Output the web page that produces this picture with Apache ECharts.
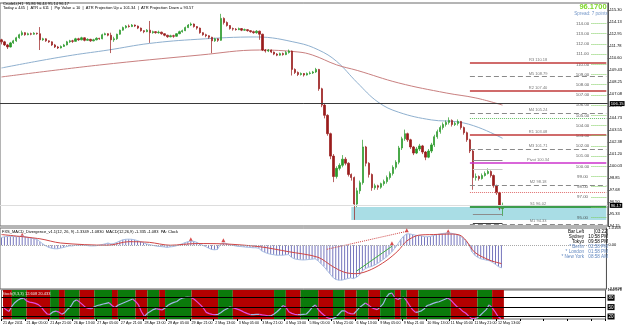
<!DOCTYPE html>
<html><head><meta charset="utf-8">
<script src="https://cdn.jsdelivr.net/npm/echarts@6/dist/echarts.min.js"></script>
<style>html,body{margin:0;padding:0;background:#fff}#c{width:625px;height:329px}</style>
</head><body><div id="c"></div>
<script>
// ---------- DATA ----------
const tickLabels = ['21 Apr 2011','21 Apr 05:00','21 Apr 21:00','26 Apr 13:00','27 Apr 05:00','27 Apr 21:00','28 Apr 13:00','29 Apr 05:00','29 Apr 21:00','2 May 13:00','3 May 05:00','3 May 21:00','4 May 13:00','5 May 05:00','5 May 21:00','6 May 13:00','9 May 05:00','9 May 21:00','10 May 13:00','11 May 05:00','11 May 21:00','12 May 13:00'];
const slotCount = 205;
// [open, close, low, high]
const candles = [
[112.4,112.2,111.95,112.5],[112.2,111.9,111.8,112.3],[111.9,111.7,111.5,112.0],[111.7,112.1,111.65,112.2],[112.1,112.3,112.0,112.4],
[112.3,112.6,112.2,112.7],[112.6,112.9,112.5,113.0],[112.9,113.1,112.8,113.3],[113.1,112.9,112.8,113.15],[112.9,113.0,112.85,113.1],
[113.0,112.95,112.85,113.1],[112.95,113.05,112.9,113.15],[113.05,113.0,112.9,113.1],[113.0,112.4,111.4,113.65],[112.4,112.5,112.3,112.6],
[112.5,112.3,112.2,112.55],[112.3,112.2,112.1,112.35],[112.2,111.9,111.8,112.25],[111.9,111.7,111.6,112.0],[111.7,111.6,111.5,111.8],
[111.6,111.75,111.55,111.85],[111.75,111.9,111.7,112.0],[111.9,112.2,111.85,112.3],[112.2,112.3,112.1,112.4],[112.3,112.25,112.1,112.4],
[112.25,112.5,112.2,112.6],[112.5,112.4,112.3,112.6],[112.4,112.6,112.35,112.7],[112.6,112.35,112.25,112.65],[112.35,112.45,112.3,112.55],
[112.45,112.3,112.2,112.5],[112.3,112.4,112.25,112.5],[112.4,112.55,112.35,112.65],[112.55,112.5,112.4,112.6],[112.5,112.9,112.45,113.0],
[112.9,113.0,112.85,113.1],[113.0,112.85,112.75,113.05],[112.85,112.4,111.1,113.1],[112.4,112.5,112.2,112.7],[112.5,112.95,112.4,113.0],
[112.95,113.35,112.9,113.4],[113.35,113.6,113.3,113.7],[113.6,113.75,113.5,113.85],[113.75,113.7,113.6,113.9],[113.7,113.85,113.65,113.95],
[113.85,113.75,113.65,113.9],[113.75,113.55,113.45,113.8],[113.55,113.3,113.2,113.6],[113.3,113.2,113.05,113.35],[113.2,113.35,113.15,113.45],
[113.35,113.1,112.1,114.25],[113.1,113.2,113.0,113.3],[113.2,113.1,113.0,113.25],[113.1,113.15,113.0,113.3],[113.15,113.0,112.9,113.2],
[113.0,112.85,112.75,113.05],[112.85,112.7,112.6,112.9],[112.7,112.8,112.65,112.9],[112.8,112.75,112.6,112.9],[112.75,113.0,112.7,113.05],
[113.0,113.2,112.95,113.3],[113.2,113.3,113.1,113.4],[113.3,113.6,113.25,113.7],[113.6,113.85,113.55,113.95],[113.85,113.95,113.75,114.1],
[113.95,113.7,113.6,114.0],[113.7,113.55,113.4,113.75],[113.55,113.1,113.0,113.6],[113.1,112.9,112.8,113.15],[112.9,112.8,112.65,113.0],
[112.8,112.65,112.5,112.85],[112.65,112.3,111.1,112.7],[112.3,112.5,112.2,112.6],[112.5,112.35,112.2,112.55],[112.35,114.5,112.3,114.95],
[114.5,114.1,113.9,114.6],[114.1,113.8,113.7,114.2],[113.8,113.5,113.4,113.85],[113.5,113.45,113.3,113.6],[113.45,113.4,113.3,113.55],
[113.4,113.5,113.35,113.6],[113.5,113.35,113.25,113.55],[113.35,113.4,113.3,113.5],[113.4,113.3,113.2,113.45],[113.3,113.2,113.1,113.35],
[113.2,113.1,113.0,113.3],[113.1,113.25,113.0,113.35],[113.25,112.95,112.4,113.3],[112.95,111.4,111.3,113.0],[111.4,111.3,111.15,111.5],
[111.3,111.4,111.2,111.5],[111.4,111.2,111.1,111.45],[111.2,111.0,110.9,111.25],[111.0,110.9,110.8,111.1],[110.9,111.05,110.85,111.15],
[111.05,110.95,110.85,111.15],[110.95,111.15,110.9,111.3],[111.15,111.3,111.05,111.45],[111.3,109.5,108.9,111.35],[109.5,109.2,109.05,109.6],
[109.2,109.0,108.85,109.3],[109.0,109.1,108.9,109.2],[109.1,108.95,108.8,109.15],[108.95,109.1,108.9,109.2],[109.1,109.15,109.0,109.3],
[109.15,109.25,109.05,109.35],[109.25,109.5,109.15,109.65],[109.5,107.6,107.4,109.55],[107.6,106.0,105.8,107.7],[106.0,105.0,104.7,106.2],
[105.0,103.2,103.0,105.1],[103.2,101.0,100.7,103.3],[101.0,99.0,98.45,101.2],[99.0,99.8,98.8,100.0],[99.8,100.1,99.6,100.3],
[100.1,100.7,99.9,101.1],[100.7,100.3,100.1,100.9],[100.3,99.2,99.0,100.4],[99.2,98.9,98.6,99.3],[98.9,96.3,94.75,99.0],
[96.3,97.6,96.0,97.9],[97.6,98.4,97.3,98.6],[98.4,101.9,98.2,102.6],[101.9,100.3,100.0,102.0],[100.3,99.2,98.9,100.4],
[99.2,97.9,97.6,99.3],[97.9,98.1,97.7,98.3],[98.1,97.95,97.7,98.2],[97.95,98.3,97.8,98.4],[98.3,98.5,98.1,98.7],
[98.5,98.9,98.3,99.1],[98.9,99.3,98.7,99.5],[99.3,99.9,99.1,100.1],[99.9,100.4,99.7,100.6],[100.4,101.8,100.2,102.0],
[101.8,102.7,101.6,102.9],[102.7,103.2,102.5,103.6],[103.2,102.6,102.4,103.3],[102.6,101.9,101.7,102.7],[101.9,101.3,101.1,102.0],
[101.3,101.7,101.2,101.9],[101.7,102.0,101.5,102.2],[102.0,101.4,101.2,102.1],[101.4,100.9,100.6,101.5],[100.9,101.5,100.8,101.7],
[101.5,102.1,101.3,102.3],[102.1,102.9,101.9,103.1],[102.9,103.4,102.7,103.6],[103.4,103.8,103.2,104.0],[103.8,104.1,103.6,104.3],
[104.1,104.3,103.9,104.5],[104.3,104.5,104.1,104.8],[104.5,104.1,103.9,104.6],[104.1,104.2,103.95,104.35],[104.2,104.4,104.0,104.6],
[104.4,103.8,103.6,104.45],[103.8,103.3,103.1,103.9],[103.3,102.6,102.4,103.4],[102.6,101.5,101.3,102.7],[101.5,98.9,97.7,101.6],
[98.9,99.0,98.6,99.3],[99.0,98.8,98.6,99.1],[98.8,99.1,98.7,99.3],[99.1,99.3,99.0,99.5],[99.3,99.5,99.2,99.8],
[99.5,99.1,98.9,99.6],[99.1,98.1,97.9,99.2],[98.1,97.4,97.2,98.2],[97.4,95.9,95.7,97.5],[95.86,96.17,95.14,96.44]
];
// moving averages [slot, price]
const maBlue = [[0,109.64],[12,110.3],[24,110.9],[36,111.4],[50,112.05],[66,112.45],[86,112.68],[100,112.1],[107,111.4],[113,110.3],[120,108.2],[127,106.3],[134,105.3],[145,104.55],[154,104.35],[161,103.8],[169,102.75]];
const maRed = [[0,108.76],[33,109.93],[67,110.91],[87,111.4],[100,111.21],[105,110.9],[113,109.95],[120,109.4],[134,108.17],[150,107.19],[160,106.7],[169,106.0]];
const priceTicks = [94.15,95.33,96.50,97.68,98.85,100.03,101.20,102.38,103.55,104.73,105.90,107.08,108.25,109.43,110.60,111.78,112.95,114.13,115.30];
const roundLevels = [95,96,97,98,99,100,101,102,103,104,105,106,107,108,109,110,111,112,113,114];
const pivotNames = ['R3','M5','R2','M4','R1','M3','Pivot','M2','S1','M1'];
const pivotValues = [110.18,108.79,107.40,105.24,103.08,101.71,100.34,98.18,96.02,94.33];
const prevHigh = 104.74, prevLow = 97.48;
const shortLevels = [100.62, 99.74, 95.33, 94.44];
const zoneTop = 96.02, zoneBottom = 94.74;
const refLine = 106.15, lastPrice = 96.17;
// MACD panel
const macdHist = [
0.46,0.50,0.52,0.53,0.52,0.50,0.52,0.55,0.50,0.46,0.42,0.38,0.34,0.21,0.08,-0.04,-0.13,-0.18,-0.21,-0.21,
-0.17,-0.13,-0.08,-0.04,-0.04,0.0,0.0,0.02,0.0,-0.02,-0.04,-0.04,-0.03,0.0,0.04,0.08,0.13,0.08,0.10,0.17,
0.25,0.32,0.35,0.36,0.35,0.32,0.27,0.21,0.15,0.08,0.04,0.0,-0.04,-0.07,-0.08,-0.10,-0.13,-0.10,-0.08,-0.04,
0.02,0.08,0.15,0.21,0.24,0.23,0.17,0.08,0.0,-0.08,-0.17,-0.25,-0.27,-0.25,0.04,0.13,0.10,0.04,0.0,-0.04,
-0.07,-0.08,-0.10,-0.12,-0.13,-0.15,-0.15,-0.18,-0.34,-0.42,-0.49,-0.53,-0.56,-0.59,-0.59,-0.59,-0.57,-0.55,-0.71,-0.80,
-0.84,-0.86,-0.87,-0.86,-0.84,-0.82,-0.80,-0.92,-1.09,-1.26,-1.47,-1.68,-1.89,-2.02,-2.06,-2.06,-2.02,-1.97,-1.93,-1.97,
-1.89,-1.76,-1.51,-1.39,-1.30,-1.26,-1.18,-1.09,-0.97,-0.84,-0.71,-0.55,-0.38,-0.17,0.08,0.34,0.55,0.67,0.67,0.63,
0.59,0.57,0.55,0.50,0.50,0.52,0.57,0.62,0.66,0.69,0.71,0.73,0.71,0.67,0.63,0.55,0.42,0.25,0.04,-0.38,
-0.59,-0.71,-0.80,-0.84,-0.88,-0.92,-1.01,-1.13,-1.26,-1.335
];
const macdSignal = [[0,0.63],[13,0.38],[20,0.13],[36,0.0],[43,0.21],[50,0.17],[57,0.0],[66,0.10],[75,0.08],[87,-0.08],[97,-0.38],[107,-0.71],[112,-1.26],[116,-1.6],[120,-1.68],[125,-1.43],[130,-0.92],[134,-0.34],[137,0.25],[141,0.59],[146,0.63],[152,0.66],[155,0.59],[157,0.29],[160,-0.42],[165,-0.88],[169,-1.083]];
const divGreen = [[120,-1.53],[132,-0.06]];
const divRed = [[110,-0.24],[137,0.82]];
const divArrows = [[7,0.62],[64,0.36],[75,0.29],[132,0.12],[137,0.88],[151,0.82]];
const macdTicks = [1.0168, 0, -2.5828];
// Stochastic panel
const stoch = [
51,42,36,52,64,72,77,78,70,66,64,62,58,50,38,28,27,35,37,34,
27,33,44,52,68,73,66,58,49,46,45,51,55,57,60,62,64,55,48,56,
60,64,68,72,76,68,57,35,20,30,36,42,45,43,41,47,56,61,65,68,
75,79,81,82,80,74,66,57,47,33,29,27,26,27,33,40,45,51,48,45,
42,38,33,29,26,26,27,27,25,24,22,22,28,35,44,55,50,35,30,27,
26,26,27,28,38,50,57,42,32,24,17,13,14,18,28,38,38,32,29,28,
38,49,56,63,57,49,45,42,50,60,80,92,95,80,74,79,82,70,55,42,
33,35,38,45,55,58,62,65,67,71,75,79,72,62,52,46,37,31,22,14,
13,16,24,33,42,57,48,35,20,12.6
];
// background bands: [first slot, last slot, state] G = bullish, R = bearish
const bandRuns = [[0,2,'R'],[3,7,'G'],[8,15,'R'],[16,18,'G'],[19,20,'R'],[21,25,'G'],[26,30,'R'],[31,36,'G'],[37,38,'R'],[39,44,'G'],[45,48,'R'],[49,52,'G'],[53,54,'R'],[55,63,'G'],[64,72,'R'],[73,77,'G'],[78,91,'R'],[92,95,'G'],[96,100,'R'],[101,106,'G'],[107,111,'R'],[112,115,'G'],[116,119,'R'],[120,123,'G'],[124,127,'R'],[128,132,'G'],[133,134,'R'],[135,136,'G'],[137,140,'R'],[141,151,'G'],[152,160,'R'],[161,165,'G'],[166,169,'R']];
const stochLevels = [80, 50, 20];
const stochTicks = [104.571, 80, 50, 20];
const stochMin = 12, stochMax = 104.571;

// ---------- CHART ----------
const FONT = "'Liberation Sans', Arial, sans-serif";
const cats = Array.from({length: slotCount}, (_, i) => String(i));
const chart = echarts.init(document.getElementById('c'), null, {renderer: 'canvas'});

function xAx(gi, show) {
  return {
    type: 'category', gridIndex: gi, data: cats, boundaryGap: true,
    axisLine: {show: false},
    axisTick: {show: show, interval: 7, length: 2, lineStyle: {color: '#000'}},
    axisLabel: {show: show, interval: 7, align: 'left', fontSize: 3.7, fontFamily: FONT, color: '#000', margin: 1.5,
      formatter: (v, i) => tickLabels[i / 8] !== undefined ? tickLabels[i / 8] : ''},
    splitLine: {show: false}
  };
}

const pivotLines = pivotNames.map((n, k) => {
  const v = pivotValues[k];
  let ls;
  if (n === 'Pivot') ls = {color: '#cc33cc', width: 1.5, type: 'solid'};
  else if (n[0] === 'R') ls = {color: '#c03a3a', width: 1.5, type: 'solid'};
  else if (n[0] === 'S') ls = {color: '#3c9c4c', width: 2, type: 'solid'};
  else ls = {color: '#8a8a8a', width: 1, type: [5, 3]};
  return [
    {coord: [158, v], lineStyle: ls,
     label: {show: true, position: 'insideMiddleTop', distance: 1, formatter: n + ' ' + v.toFixed(2), fontSize: 4, fontFamily: FONT, color: '#777'}},
    {coord: [204, v]}
  ];
});
const extraLines = [
  [{coord: [158, prevHigh], lineStyle: {color: '#66c266', width: 1, type: 'dotted'}, label: {show: false}}, {coord: [204, prevHigh]}],
  [{coord: [158, prevLow], lineStyle: {color: '#e07070', width: 1, type: 'dotted'}, label: {show: false}}, {coord: [204, prevLow]}]
].concat(shortLevels.map((v, k) => [
  {coord: [159, v], lineStyle: {color: k === 3 ? '#404040' : (k === 1 ? '#c8c8c8' : '#8c8c8c'), width: 1, type: 'solid'}, label: {show: false}},
  {coord: [169, v]}
]));
const boxLabel = {show: true, position: 'end', distance: 2, backgroundColor: '#000', color: '#fff', fontSize: 4.2, fontFamily: FONT, padding: [1, 1, 0, 1]};
const fullLines = [
  {yAxis: refLine, lineStyle: {color: '#3a3a3a', width: 1, type: 'solid'}, label: Object.assign({formatter: refLine.toFixed(2)}, boxLabel)},
  {yAxis: lastPrice, lineStyle: {color: '#dddddd', width: 1, type: 'solid'}, label: Object.assign({formatter: lastPrice.toFixed(2)}, boxLabel)}
];
const levelTicks = roundLevels.map(v => [
  {coord: [199, v], lineStyle: {color: '#7ccc5a', width: 1, type: 'dotted'}, label: {show: false}},
  {coord: [204, v]}
]);

const bandColor = {G: '#0b7a0b', R: '#b30000'};
const bandAreas = bandRuns.map(r => [
  {xAxis: r[0], yAxis: stochMin, itemStyle: {color: bandColor[r[2]], opacity: 1}},
  {xAxis: r[1] + 1, yAxis: stochMax}
]);
const stochUp = stoch.map((v, i) => ((i > 0 && v >= stoch[i - 1]) || (i < stoch.length - 1 && stoch[i + 1] >= v)) ? v : null);
const stochDown = stoch.map((v, i) => ((i > 0 && v < stoch[i - 1]) || (i < stoch.length - 1 && stoch[i + 1] < v)) ? v : null);

const txt = (x, y, text, size, fill, align, weight) => ({
  type: 'text', x: x, y: y, silent: true, z: 100,
  style: {text: text, fontSize: size, fontFamily: FONT, fill: fill, align: align || 'left', verticalAlign: 'middle', fontWeight: weight || 'normal'}
});

const option = {
  animation: false,
  backgroundColor: '#ffffff',
  grid: [
    {left: 0, top: 3, width: 611, height: 223, show: true, borderColor: '#6a6a6a', borderWidth: 1, backgroundColor: '#ffffff'},
    {left: 0, top: 228, width: 611, height: 61, show: true, borderColor: '#6a6a6a', borderWidth: 1, backgroundColor: '#ffffff'},
    {left: 0, top: 290, width: 611, height: 29, show: true, borderColor: '#6a6a6a', borderWidth: 1, backgroundColor: '#ffffff'}
  ],
  xAxis: [xAx(0, false), xAx(1, false), xAx(2, true)],
  yAxis: [
    {type: 'value', gridIndex: 0, position: 'right', min: 94.15, max: 116.01, splitLine: {show: false},
     axisLine: {show: true, lineStyle: {color: '#555'}},
     axisTick: {show: true, length: 2, customValues: priceTicks, lineStyle: {color: '#555'}},
     axisLabel: {customValues: priceTicks, fontSize: 4, fontFamily: FONT, color: '#000', margin: 2, formatter: v => v.toFixed(2)}},
    {type: 'value', gridIndex: 1, position: 'right', min: -2.5828, max: 1.0168, splitLine: {show: false},
     axisLine: {show: true, lineStyle: {color: '#555'}}, axisTick: {show: false},
     axisLabel: {customValues: macdTicks, fontSize: 4, fontFamily: FONT, color: '#000', margin: 2, formatter: v => v === 0 ? '0.00' : v.toFixed(4)}},
    {type: 'value', gridIndex: 2, position: 'right', min: stochMin, max: stochMax, splitLine: {show: false},
     axisLine: {show: true, lineStyle: {color: '#555'}}, axisTick: {show: false},
     axisLabel: {customValues: stochTicks, fontSize: 4, fontFamily: FONT, color: '#000', margin: 2,
       formatter: v => stochLevels.indexOf(v) >= 0 ? '{b|' + v + '}' : v.toFixed(3),
       rich: {b: {backgroundColor: '#000', color: '#fff', fontSize: 4.5, fontFamily: FONT, padding: [1, 1, 0, 1]}}}}
  ],
  series: [
    {type: 'line', xAxisIndex: 0, yAxisIndex: 0, data: [], z: 1, silent: true,
     markArea: {silent: true, itemStyle: {color: '#a9dde5'}, data: [[{xAxis: 118, yAxis: zoneTop}, {xAxis: 204, yAxis: zoneBottom}]]},
     markLine: {symbol: ['none', 'none'], silent: true, animation: false, data: pivotLines.concat(extraLines).concat(levelTicks).concat(fullLines)}},
    {type: 'candlestick', xAxisIndex: 0, yAxisIndex: 0, data: candles, barWidth: 1.8, z: 3,
     itemStyle: {color: '#2a9a2a', color0: '#9a1c1c', borderColor: '#2a9a2a', borderColor0: '#9a1c1c', borderWidth: 0.7}},
    {type: 'line', xAxisIndex: 0, yAxisIndex: 0, data: maBlue, smooth: 0.4, symbol: 'none', z: 2,
     lineStyle: {color: '#8fb0cf', width: 1}},
    {type: 'line', xAxisIndex: 0, yAxisIndex: 0, data: maRed, smooth: 0.4, symbol: 'none', z: 2,
     lineStyle: {color: '#c98080', width: 1}},
    {type: 'scatter', xAxisIndex: 0, yAxisIndex: 0, data: roundLevels.map(v => [196, v]), symbolSize: 0, z: 4, silent: true,
     label: {show: true, position: 'inside', formatter: p => p.value[1].toFixed(2), fontSize: 4.4, fontFamily: FONT, color: '#333'}},
    // MACD
    {type: 'bar', xAxisIndex: 1, yAxisIndex: 1, data: macdHist, barWidth: 1, itemStyle: {color: '#7676bd'},
     markLine: {symbol: ['none', 'none'], silent: true, label: {show: false}, lineStyle: {color: '#a8a8a8', type: 'dotted', width: 1}, data: [{yAxis: 0}]}},
    {type: 'line', xAxisIndex: 1, yAxisIndex: 1, data: macdHist, symbol: 'none', lineStyle: {color: '#a9bfe3', width: 1}},
    {type: 'line', xAxisIndex: 1, yAxisIndex: 1, data: macdSignal, smooth: 0.3, symbol: 'none', lineStyle: {color: '#d04545', width: 1}},
    {type: 'line', xAxisIndex: 1, yAxisIndex: 1, data: divGreen, symbol: 'none', lineStyle: {color: '#3fae3f', width: 1}},
    {type: 'line', xAxisIndex: 1, yAxisIndex: 1, data: divRed, symbol: 'none', lineStyle: {color: '#d04545', width: 1, type: 'dotted'}},
    {type: 'scatter', xAxisIndex: 1, yAxisIndex: 1, data: divArrows, symbol: 'triangle', symbolSize: 4, itemStyle: {color: '#d02020'}},
    // Stochastic
    {type: 'line', xAxisIndex: 2, yAxisIndex: 2, data: stochUp, symbol: 'none', connectNulls: false, z: 3, lineStyle: {color: '#9fb6e6', width: 1.2},
     markArea: {silent: true, data: bandAreas},
     markLine: {symbol: ['none', 'none'], silent: true, label: {show: false}, lineStyle: {color: '#000', type: 'solid', width: 1},
       data: stochLevels.map(v => ({yAxis: v}))}},
    {type: 'line', xAxisIndex: 2, yAxisIndex: 2, data: stochDown, symbol: 'none', connectNulls: false, z: 4, lineStyle: {color: '#e24be0', width: 1.2}}
  ],
  graphic: [
    txt(3, 3.5, 'CrudeLt,H1  95.86 96.44 95.14 96.17', 4, '#000'),
    txt(3, 7.5, 'Today = 445  |  ATR = 611  |  Pip Value = 10  |  ATR Projection Up = 101.34  |  ATR Projection Down = 93.57', 4, '#000'),
    txt(593, 7, '96.1700', 7.5, '#7fd82c', 'center', 'bold'),
    txt(591, 14, 'Spread: 7 points', 4.6, '#7396c8', 'center'),
    txt(2, 231.5, 'FXS_MACD_Divergence_v1.1(12, 26, 9) -1.3349 -1.0830  MACD(12,26,9) -1.335 -1.083  PA: Clock', 4, '#000'),
    txt(2, 293.5, 'Stoch(8,3,3) 12.608 20.433', 4, '#e8e8e8'),
    txt(584, 232, 'Bar Left', 4.6, '#000', 'right'), txt(608, 232, '[03:22]', 4.6, '#000', 'right'),
    txt(584, 237, 'Sydney', 4.6, '#000', 'right'), txt(608, 237, '10:58 PM', 4.6, '#000', 'right'),
    txt(584, 242, 'Tokyo', 4.6, '#000', 'right'), txt(608, 242, '09:58 PM', 4.6, '#000', 'right'),
    txt(584, 247, '* Berlin', 4.6, '#5f86bf', 'right'), txt(608, 247, '02:58 PM', 4.6, '#5f86bf', 'right'),
    txt(584, 252, '* London', 4.6, '#5f86bf', 'right'), txt(608, 252, '01:58 PM', 4.6, '#5f86bf', 'right'),
    txt(584, 257, '* New York', 4.6, '#5f86bf', 'right'), txt(608, 257, '08:58 AM', 4.6, '#5f86bf', 'right')
  ]
};
chart.setOption(option);
</script>
</body></html>
